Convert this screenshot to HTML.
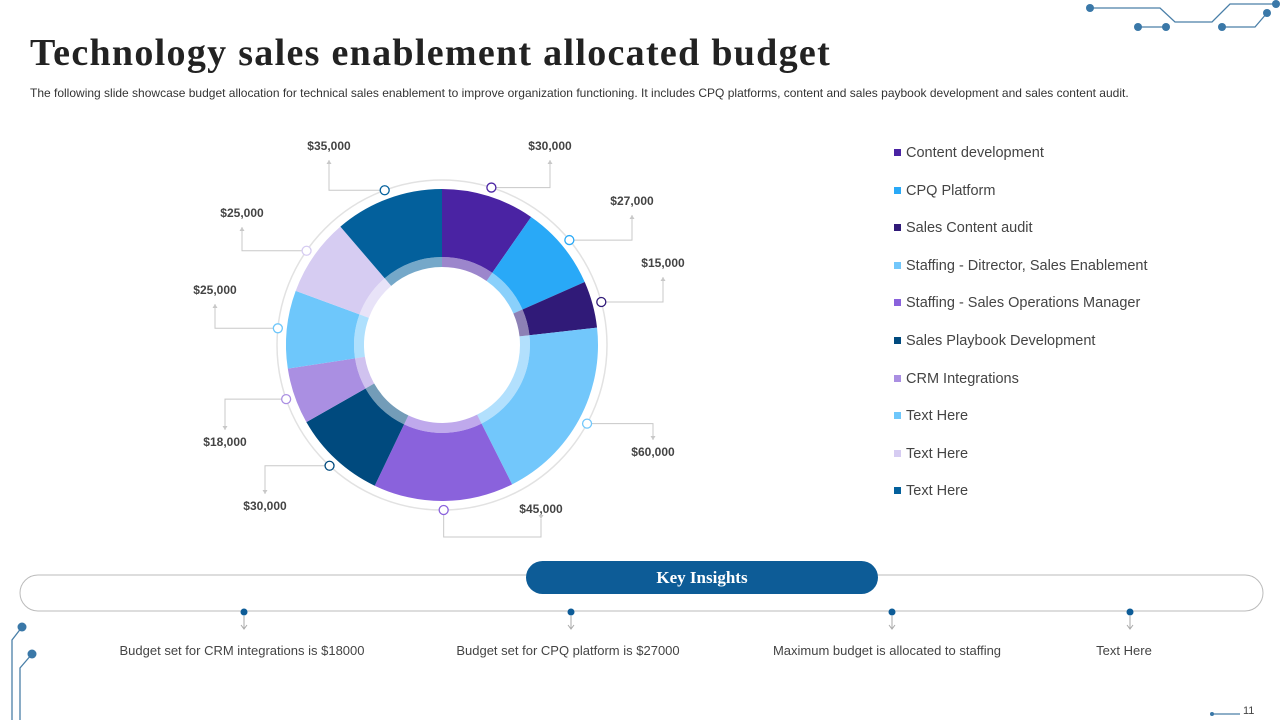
<!DOCTYPE html>
<html><head><meta charset="utf-8">
<style>
body{margin:0;width:1280px;height:720px;background:#fff;font-family:"Liberation Sans",sans-serif;position:relative;overflow:hidden}
h1{position:absolute;left:30px;top:31px;margin:0;font-family:"Liberation Serif",serif;font-size:38px;letter-spacing:1.3px;font-weight:bold;color:#222}
.sub{position:absolute;left:30px;top:86px;font-size:12px;color:#333;letter-spacing:0}
.leg{position:absolute;left:894px;font-size:14.5px;color:#444}
.leg i{display:inline-block;width:7px;height:7px;margin-right:5px;vertical-align:1px}
.ins{position:absolute;top:643px;font-size:13px;color:#444;text-align:center;width:300px}
</style></head><body>
<h1>Technology sales enablement allocated budget</h1>
<div class="sub">The following slide showcase budget allocation for technical sales enablement to improve organization functioning. It includes CPQ platforms, content and sales paybook development and sales content audit.</div>
<svg width="1280" height="720" style="position:absolute;left:0;top:0">
<g id="deco" stroke="#4a7fa8" stroke-width="1.3" fill="none">
<polyline points="1090,8 1160,8 1175,22 1212,22 1230,4 1278,4"/>
<polyline points="1138,27 1166,27"/><polyline points="1222,27 1255,27 1267,13"/>
<polyline points="22,627 12,640 12,720"/><polyline points="32,654 20,668 20,720"/>
<polyline points="1212,714 1240,714"/>
</g>
<g fill="#3a78a8">
<circle cx="1090" cy="8" r="4"/><circle cx="1138" cy="27" r="4"/><circle cx="1166" cy="27" r="4"/><circle cx="1222" cy="27" r="4"/><circle cx="1267" cy="13" r="4"/><circle cx="1276" cy="4" r="4"/>
<circle cx="22" cy="627" r="4.5"/><circle cx="32" cy="654" r="4.5"/><circle cx="1212" cy="714" r="2"/>
</g>
<g id="donut"></g>
<rect x="20" y="575" width="1243" height="36" rx="18" fill="#fff" stroke="#bbb"/>
<rect x="526" y="561" width="352" height="33" rx="16.5" fill="#0d5c97"/>
<text x="702" y="583" text-anchor="middle" fill="#fff" font-family="Liberation Serif,serif" font-weight="bold" font-size="17">Key Insights</text>
<g id="ticks"></g>
</svg>
<div id="legend"></div>
<div class="ins" style="left:92px">Budget set for CRM integrations is $18000</div>
<div class="ins" style="left:418px">Budget set for CPQ platform is $27000</div>
<div class="ins" style="left:737px">Maximum budget is allocated to staffing</div>
<div class="ins" style="left:974px">Text Here</div>
<div style="position:absolute;left:1243px;top:705px;font-size:11px;color:#444">11</div>
<script>
const values=[30000,27000,15000,60000,45000,30000,18000,25000,25000,35000];
const labels=["$30,000","$27,000","$15,000","$60,000","$45,000","$30,000","$18,000","$25,000","$25,000","$35,000"];
const colors=["#4a23a3","#29a9f7","#301a78","#72c7fb","#8a62dc","#004a7e","#aa8fe2","#6ec7fb","#d6ccf2","#03609c"];
const legendNames=["Content development","CPQ Platform","Sales Content audit","Staffing - Ditrector, Sales Enablement","Staffing - Sales Operations Manager","Sales Playbook Development","CRM Integrations","Text Here","Text Here","Text Here"];
const legendColors=["#4a23a3","#29a9f7","#301a78","#72c7fb","#8a62dc","#004a7e","#aa8fe2","#6ec7fb","#d6ccf2","#03609c"];
const insightX=[244,571,892,1130];
const NS="http://www.w3.org/2000/svg";
const cx=442,cy=345,R=156,Ri=78,Rm=88,Ro=165;
const lay=[[550,150],[632,205],[663,267],[653,456],[541,513],[265,510],[225,446],[215,294],[242,217],[329,150]];
const g=document.getElementById('donut');
function mk(t,a){const e=document.createElementNS(NS,t);for(const k in a)e.setAttribute(k,a[k]);return e;}
const oc=mk('circle',{cx:cx,cy:cy,r:Ro,fill:'none',stroke:'#e2e2e2','stroke-width':1.5});


g.appendChild(oc);
const tot=values.reduce((a,b)=>a+b,0);
function pt(r,a){return [cx+r*Math.sin(a),cy-r*Math.cos(a)];}
function arc(r1,r2,a0,a1,fill,op){
 const l=(a1-a0)>Math.PI?1:0;const p0=pt(r2,a0),p1=pt(r2,a1),p2=pt(r1,a1),p3=pt(r1,a0);
 return mk('path',{d:`M${p0}A${r2},${r2} 0 ${l} 1 ${p1}L${p2}A${r1},${r1} 0 ${l} 0 ${p3}Z`,fill:fill,'fill-opacity':op});
}
let a=0;
values.forEach((v,i)=>{
 const a1=a+v/tot*2*Math.PI;
 const s=arc(Rm,R,a,a1,colors[i],1);
 
 
 g.appendChild(s);
 const s2=arc(Ri,Rm,a,a1,colors[i],0.55);
 
 
 g.appendChild(s2);
 const m=(a+a1)/2;const p=pt(Ro,m);const L=lay[i];
 const up=L[1]<cy;
 const ty=up?L[1]+10:L[1]-16;
 let pts;
 if(!up&&L[1]>p[1]&&Math.abs(L[0]-p[0])<120&&p[1]>cy+140){
   pts=`${p[0]},${p[1]} ${p[0]},537 ${L[0]},537 ${L[0]},${L[1]+6}`;
 } else pts=`${p[0]},${p[1]} ${L[0]},${p[1]} ${L[0]},${ty}`;
 const ln=mk('polyline',{points:pts,fill:'none',stroke:'#c8c8c8','stroke-width':1});
 
 
 g.appendChild(ln);
 const ex=L[0],ey=(pts.split(' ').pop().split(',')[1])*1;
 const dir=ey<p[1]?-1:1;
 const ah=mk('path',{d:`M${ex-2.5},${ey-dir*4}L${ex},${ey}L${ex+2.5},${ey-dir*4}Z`,fill:'#c8c8c8'});
 
 
 g.appendChild(ah);
 const c=mk('circle',{cx:p[0],cy:p[1],r:4.5,fill:'#fff',stroke:colors[i],'stroke-width':1.3});
 
 
 g.appendChild(c);
 const t=mk('text',{x:L[0],y:L[1],'text-anchor':'middle','font-size':12,'font-weight':'bold',fill:'#444'});
 t.textContent=labels[i];
 
 
 g.appendChild(t);
 a=a1;
});
const tk=document.getElementById('ticks');
insightX.forEach((x,i)=>{
 const d=mk('circle',{cx:x,cy:612,r:3.5,fill:'#0d5c97'});
 
 
 tk.appendChild(d);
 const l=mk('path',{d:`M${x},616V628M${x-3},625L${x},629L${x+3},625`,stroke:'#aaa',fill:'none'});
 
 
 tk.appendChild(l);
});
const lg=document.getElementById('legend');
legendNames.forEach((n,i)=>{
 const d=document.createElement('div');d.className='leg';d.style.top=(145+i*37.6)+'px';
 d.innerHTML=`<i style="background:${legendColors[i]}"></i>${n}`;
 
 
 lg.appendChild(d);
});
</script>
</body></html>
